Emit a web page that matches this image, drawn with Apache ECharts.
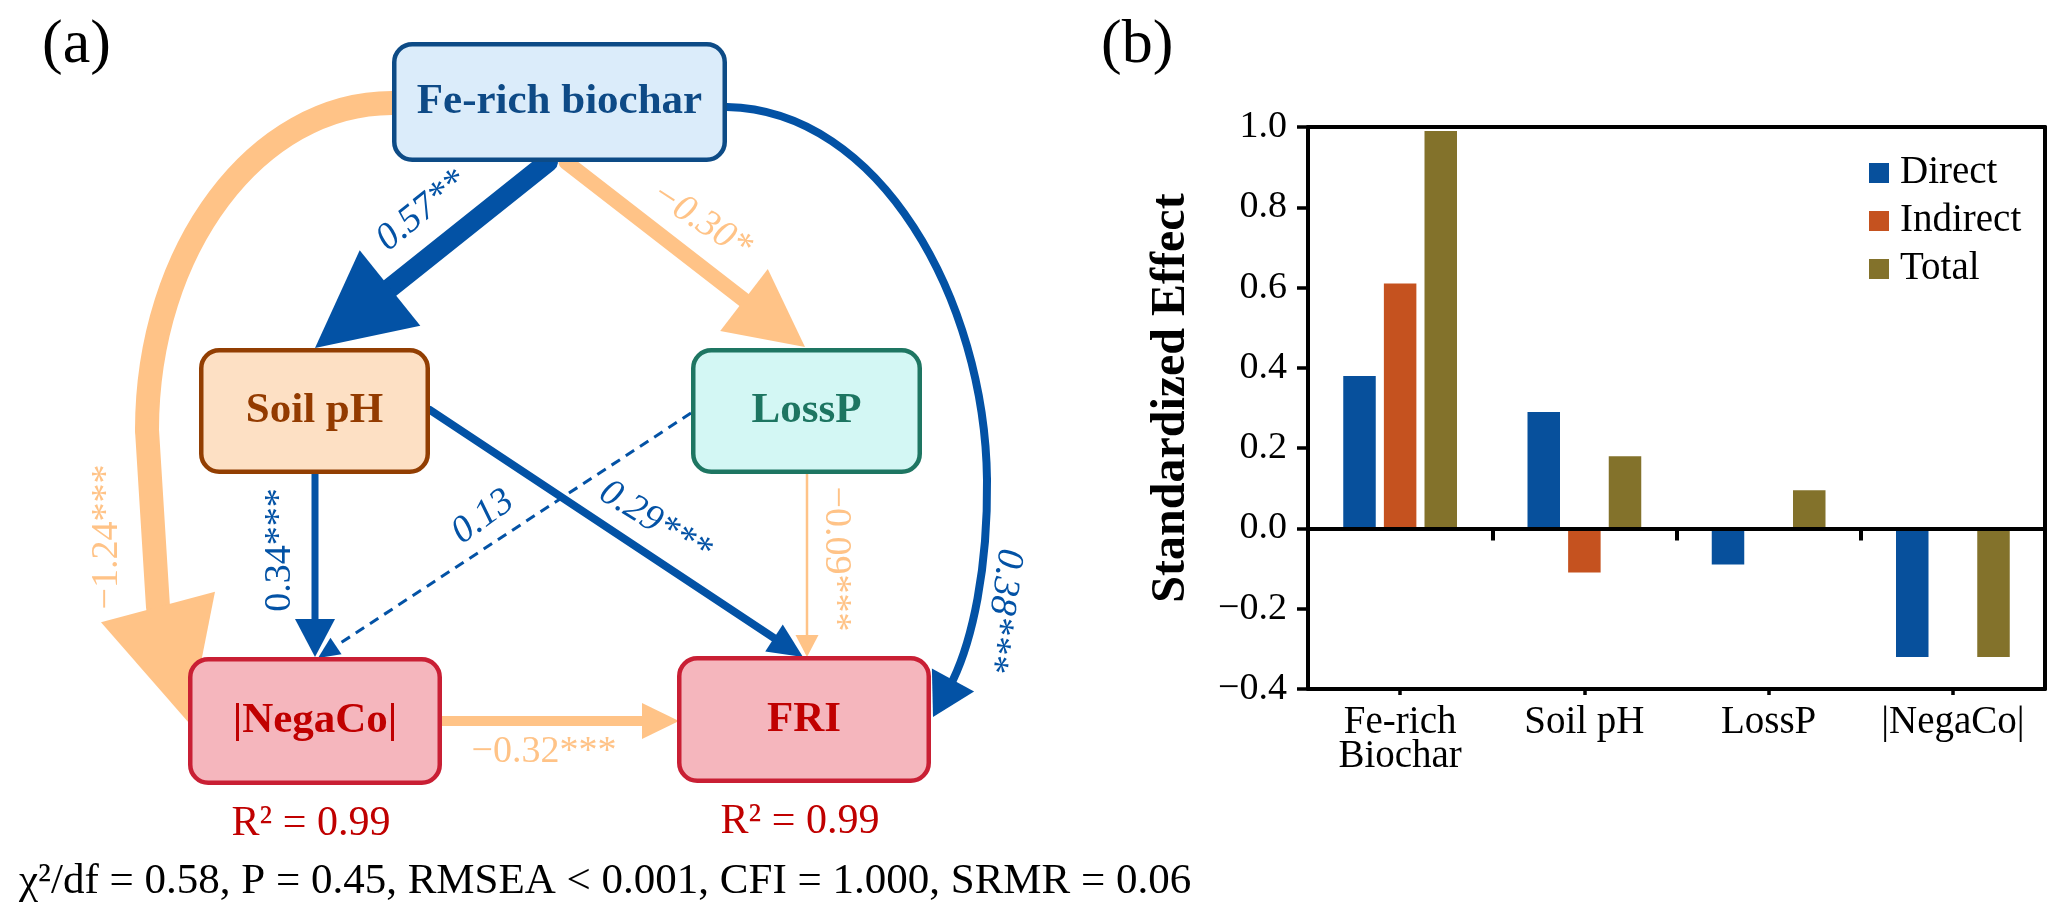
<!DOCTYPE html>
<html><head><meta charset="utf-8">
<script src="https://cdn.jsdelivr.net/npm/echarts@6/dist/echarts.min.js"></script>
<style>html,body{margin:0;padding:0;background:#fff}#c{width:2062px;height:921px}</style>
</head><body><div id="c"></div>
<script>
// ================= DATA =================
// (a) structural equation model
const nodeNames = ['Fe-rich biochar', 'Soil pH', 'LossP', '|NegaCo|', 'FRI'];
const nodeR2 = [null, null, null, 0.99, 0.99];
const pathFrom = [0, 0, 0, 0, 1, 1, 2, 2, 3];
const pathTo   = [1, 2, 3, 4, 3, 4, 3, 4, 4];
const pathCoef = [0.57, -0.30, -1.24, 0.38, 0.34, 0.29, 0.13, -0.09, -0.32];
const pathSig  = ['**', '*', '***', '***', '***', '***', '', '***', '***'];
const fitStatsText = 'χ²/df = 0.58, P = 0.45, RMSEA < 0.001, CFI = 1.000, SRMR = 0.06';
// (b) standardized effects
const effectCategories = ['Fe-rich\nBiochar', 'Soil pH', 'LossP', '|NegaCo|'];
const effectSeriesNames = ['Direct', 'Indirect', 'Total'];
const directEffect   = [0.38, 0.29, -0.09, -0.32];
const indirectEffect = [0.61, -0.11, 0, 0];
const totalEffect    = [0.99, 0.18, 0.095, -0.32];

// ================= LAYOUT / STYLE =================
const FONT = 'Liberation Serif';
const BLUE = '#0352a5', ORANGE = '#ffc387';
const effectColors = ['#07509c', '#c5521f', '#83722b'];
const nodeLayout = [
  {box: [392, 42, 727, 162], fill: '#dbecfa', stroke: '#0d4b86', text: '#0e4a86'},
  {box: [199, 348, 430, 474], fill: '#fde0c4', stroke: '#923e02', text: '#933b00'},
  {box: [691, 348, 922, 474], fill: '#d3f7f4', stroke: '#1e7662', text: '#1d7561'},
  {box: [188, 657, 442, 785], fill: '#f5b6bd', stroke: '#c91f34', text: '#c00000'},
  {box: [677, 656, 931, 783], fill: '#f5b6bd', stroke: '#c91f34', text: '#c00000'}
];
const edgeLayout = [
  {segs: [['L', [548, 162], [390, 288]]], tip: [315, 348], hw: 97, w: 20, at: [422, 211], rot: 39, italic: true},
  {segs: [['L', [566, 162], [744, 300]]], tip: [805, 347], hw: 78, w: 15, at: [701, 221], rot: -33, italic: true},
  {segs: [['C', [392, 103], [257, 103], [147, 249], [147, 430]], ['L', [147, 430], [158, 607]]], tip: [189, 723], hw: 118, w: 24, at: [107, 537], rot: 90},
  {segs: [['C', [727, 107], [880, 110], [985, 300], [987, 480]], ['C', [987, 480], [988, 570], [972, 640], [953, 680]]], tip: [933, 717], hw: 48, w: 8, at: [1001, 610], rot: -98, italic: true},
  {segs: [['L', [315, 474], [315, 619]]], tip: [315, 657], hw: 40, w: 7, at: [280, 550], rot: 90},
  {segs: [['L', [430, 410], [774, 638]]], tip: [803, 657], hw: 32, w: 8, at: [655, 522], rot: -32, italic: true},
  {segs: [['L', [691, 413], [336, 646]]], tip: [318, 658], hw: 20, w: 3, dash: [10, 7], at: [483, 517], rot: 36, italic: true},
  {segs: [['L', [807, 474], [807, 635]]], tip: [807, 657], hw: 23, w: 2.5, at: [836, 559], rot: -90},
  {segs: [['L', [442, 721], [642, 721]]], tip: [679, 721], hw: 36, w: 10, at: [544, 752], rot: 0}
];

function fmtCoef(c) { return (c < 0 ? '\u2212' : '') + Math.abs(c).toFixed(2); }
function fmtTick(v) { return (v < 0 ? '\u2212' : '') + Math.abs(v).toFixed(1); }

function renderEdge(params, api) {
  const i = params.dataIndex;
  const L = edgeLayout[i];
  const coef = api.value(2);
  const color = coef >= 0 ? BLUE : ORANGE;
  const P = p => api.coord(p);
  const children = [];
  L.segs.forEach(s => {
    const st = {stroke: color, lineWidth: L.w, fill: null, lineDash: L.dash || null, lineCap: L.dash ? 'butt' : 'round'};
    if (s[0] === 'L') {
      const a = P(s[1]), b = P(s[2]);
      children.push({type: 'line', shape: {x1: a[0], y1: a[1], x2: b[0], y2: b[1]}, style: st});
    } else {
      const a = P(s[1]), c1 = P(s[2]), c2 = P(s[3]), b = P(s[4]);
      children.push({type: 'bezierCurve', shape: {x1: a[0], y1: a[1], cpx1: c1[0], cpy1: c1[1], cpx2: c2[0], cpy2: c2[1], x2: b[0], y2: b[1]}, style: st});
    }
  });
  const last = L.segs[L.segs.length - 1];
  const base = P(last[last.length - 1]);
  const tip = P(L.tip);
  const dx = tip[0] - base[0], dy = tip[1] - base[1];
  const len = Math.hypot(dx, dy);
  const nx = -dy / len, ny = dx / len, h = L.hw / 2;
  children.push({type: 'polygon', shape: {points: [tip, [base[0] + nx * h, base[1] + ny * h], [base[0] - nx * h, base[1] - ny * h]]}, style: {fill: color}});
  const lp = P(L.at);
  children.push({type: 'text', x: lp[0], y: lp[1], rotation: L.rot * Math.PI / 180,
    style: {text: fmtCoef(coef) + pathSig[i], fill: color, fontSize: 38, fontFamily: FONT,
      fontStyle: L.italic ? 'italic' : 'normal', align: 'center', verticalAlign: 'middle'}});
  return {type: 'group', children};
}

function renderNode(params, api) {
  const i = params.dataIndex;
  const L = nodeLayout[i];
  const a = api.coord([L.box[0], L.box[1]]), b = api.coord([L.box[2], L.box[3]]);
  const lw = 4.5;
  const cx = (a[0] + b[0]) / 2, cy = (a[1] + b[1]) / 2;
  const children = [
    {type: 'rect', shape: {x: a[0] + lw / 2, y: a[1] + lw / 2, width: b[0] - a[0] - lw, height: b[1] - a[1] - lw, r: 18},
      style: {fill: L.fill, stroke: L.stroke, lineWidth: lw}},
    {type: 'text', x: cx, y: cy, style: {text: nodeNames[i], fill: L.text, fontSize: 43, fontWeight: 'bold',
      fontFamily: FONT, align: 'center', verticalAlign: 'middle'}}
  ];
  if (nodeR2[i] != null) {
    children.push({type: 'text', x: cx - 4, y: b[1] + 39, style: {text: 'R\u00b2 = ' + nodeR2[i].toFixed(2), fill: '#c00000',
      fontSize: 42, fontFamily: FONT, align: 'center', verticalAlign: 'middle'}});
  }
  return {type: 'group', children};
}

const chart = echarts.init(document.getElementById('c'), null, {renderer: 'canvas'});
const axisBlack = {color: '#000', width: 4};
chart.setOption({
  animation: false,
  backgroundColor: '#fff',
  title: [
    {text: '(a)', left: 37, top: 10, textStyle: {fontSize: 62, fontFamily: FONT, fontWeight: 'normal', color: '#000'}},
    {text: '(b)', left: 1096, top: 10, textStyle: {fontSize: 62, fontFamily: FONT, fontWeight: 'normal', color: '#000'}},
    {text: fitStatsText, left: 14, top: 855, textStyle: {fontSize: 43, fontFamily: FONT, fontWeight: 'normal', color: '#000'}}
  ],
  legend: {
    data: effectSeriesNames, orient: 'vertical', left: 1864, top: 148, icon: 'rect',
    itemWidth: 20, itemHeight: 20, itemGap: 8,
    textStyle: {fontSize: 39, fontFamily: FONT, color: '#000', lineHeight: 40, padding: [0, 0, 0, 6]}
  },
  grid: [
    {left: 0, top: 0, width: 1050, height: 921, containLabel: false, outerBoundsMode: 'none'},
    {left: 1308, top: 127, width: 737, height: 562, containLabel: false, outerBoundsMode: 'none'}
  ],
  xAxis: [
    {gridIndex: 0, type: 'value', min: 0, max: 1050, show: false},
    {gridIndex: 1, type: 'category', data: effectCategories, position: 'bottom', axisLine: {onZero: false, lineStyle: axisBlack},
      axisTick: {show: true, alignWithLabel: true, length: 6, lineStyle: {color: '#000', width: 3.5}},
      axisLabel: {fontSize: 39, fontFamily: FONT, color: '#000', lineHeight: 34, margin: 17, interval: 0},
      splitLine: {show: false}, z: 10},
    {gridIndex: 1, type: 'category', data: effectCategories, position: 'bottom', axisLine: {onZero: true, onZeroAxisIndex: 1, lineStyle: axisBlack},
      axisTick: {show: true, alignWithLabel: false, interval: 0, length: 12, lineStyle: {color: '#000', width: 4}},
      axisLabel: {show: false}, splitLine: {show: false}, z: 10},
    {gridIndex: 1, type: 'category', data: effectCategories, position: 'top', axisLine: {onZero: false, lineStyle: axisBlack},
      axisTick: {show: false}, axisLabel: {show: false}, splitLine: {show: false}, z: 10}
  ],
  yAxis: [
    {gridIndex: 0, type: 'value', min: 0, max: 921, inverse: true, show: false},
    {gridIndex: 1, type: 'value', min: -0.4, max: 1.0, interval: 0.2, position: 'left',
      name: 'Standardized Effect', nameLocation: 'middle', nameGap: 112, nameMoveOverlap: false,
      nameTextStyle: {fontSize: 48, fontFamily: FONT, fontWeight: 'bold', color: '#000', padding: [0, 0, 0, 20]},
      axisLine: {show: true, onZero: false, lineStyle: axisBlack},
      axisTick: {show: true, length: 11, lineStyle: {color: '#000', width: 3.5}},
      axisLabel: {fontSize: 38, fontFamily: FONT, color: '#000', margin: 21, formatter: fmtTick},
      splitLine: {show: false}, z: 10},
    {gridIndex: 1, type: 'value', min: -0.4, max: 1.0, interval: 0.2, position: 'right',
      axisLine: {show: true, onZero: false, lineStyle: axisBlack},
      axisTick: {show: false}, axisLabel: {show: false}, splitLine: {show: false}, z: 10}
  ],
  series: [
    {type: 'custom', name: 'paths', xAxisIndex: 0, yAxisIndex: 0, z: 2,
      data: pathCoef.map((c, i) => [pathFrom[i], pathTo[i], c]), renderItem: renderEdge, silent: true},
    {type: 'custom', name: 'nodes', xAxisIndex: 0, yAxisIndex: 0, z: 3,
      data: nodeNames.map((n, i) => [i, i]), renderItem: renderNode, silent: true},
    {type: 'bar', name: effectSeriesNames[0], xAxisIndex: 1, yAxisIndex: 1, data: directEffect,
      barWidth: 32.5, barGap: '25%', itemStyle: {color: effectColors[0]}},
    {type: 'bar', name: effectSeriesNames[1], xAxisIndex: 1, yAxisIndex: 1, data: indirectEffect,
      barWidth: 32.5, barGap: '25%', itemStyle: {color: effectColors[1]}},
    {type: 'bar', name: effectSeriesNames[2], xAxisIndex: 1, yAxisIndex: 1, data: totalEffect,
      barWidth: 32.5, barGap: '25%', itemStyle: {color: effectColors[2]}}
  ]
});
</script>
</body></html>
